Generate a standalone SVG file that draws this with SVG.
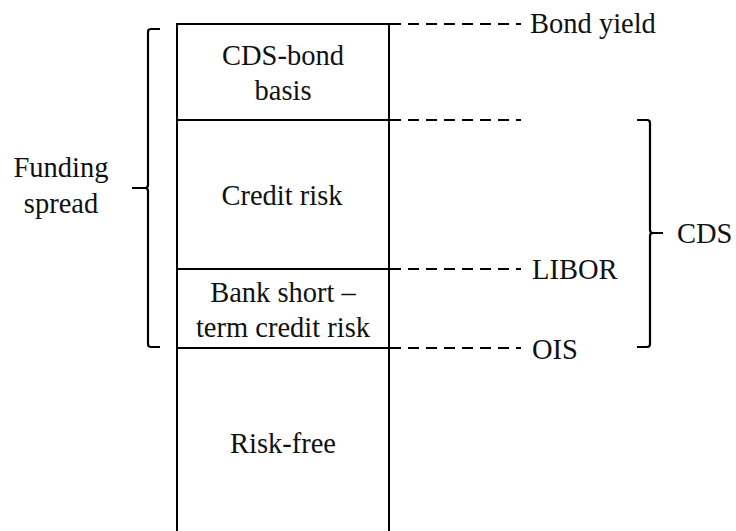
<svg xmlns="http://www.w3.org/2000/svg" width="736" height="531" viewBox="0 0 736 531">
<style>
text{font-family:'Liberation Serif','Times New Roman',serif;font-size:28.5px;fill:#111}
.c{text-anchor:middle}
.box{fill:none;stroke:#000;stroke-width:2}
.dash{stroke:#000;stroke-width:2;stroke-dasharray:11 7;fill:none}
.brace{fill:none;stroke:#000;stroke-width:2.2;stroke-linejoin:round}
</style>
<rect width="736" height="531" fill="#fff"/>
<g id="column">
<path class="box" d="M177,532 V24 H389 V532"/>
</g>
<g id="cds-bond-basis">
<text class="c" x="283" y="65">CDS-bond</text>
<text class="c" x="283" y="100">basis</text>
</g>
<g id="credit-risk">
<line class="box" x1="177" y1="120" x2="389" y2="120"/>
<text class="c" x="282" y="205">Credit risk</text>
</g>
<g id="bank-short-term">
<line class="box" x1="177" y1="269" x2="389" y2="269"/>
<text class="c" x="283" y="302">Bank short –</text>
<text class="c" x="283" y="337">term credit risk</text>
</g>
<g id="risk-free">
<line class="box" x1="177" y1="348" x2="389" y2="348"/>
<text class="c" x="283" y="453">Risk-free</text>
</g>
<g id="connectors">
<line class="dash" x1="390" y1="24" x2="521" y2="24"/>
<line class="dash" x1="390" y1="120" x2="521" y2="120"/>
<line class="dash" x1="390" y1="269" x2="521" y2="269"/>
<line class="dash" x1="390" y1="348" x2="521" y2="348"/>
</g>
<g id="labels-right">
<text x="530" y="33">Bond yield</text>
<text x="532" y="279">LIBOR</text>
<text x="532" y="359">OIS</text>
</g>
<g id="funding-spread">
<path class="brace" d="M160,29 H151 Q148,29 148,32 V185 Q148,188 145,188 H132 M145,188 Q148,188 148,191 V344 Q148,347 151,347 H160"/>
<text class="c" x="61" y="177">Funding</text>
<text class="c" x="61" y="213">spread</text>
</g>
<g id="cds">
<path class="brace" d="M637,120 H647 Q650,120 650,123 V230 Q650,233 653,233 H663 M653,233 Q650,233 650,236 V344 Q650,347 647,347 H637"/>
<text x="677" y="243">CDS</text>
</g>
</svg>
